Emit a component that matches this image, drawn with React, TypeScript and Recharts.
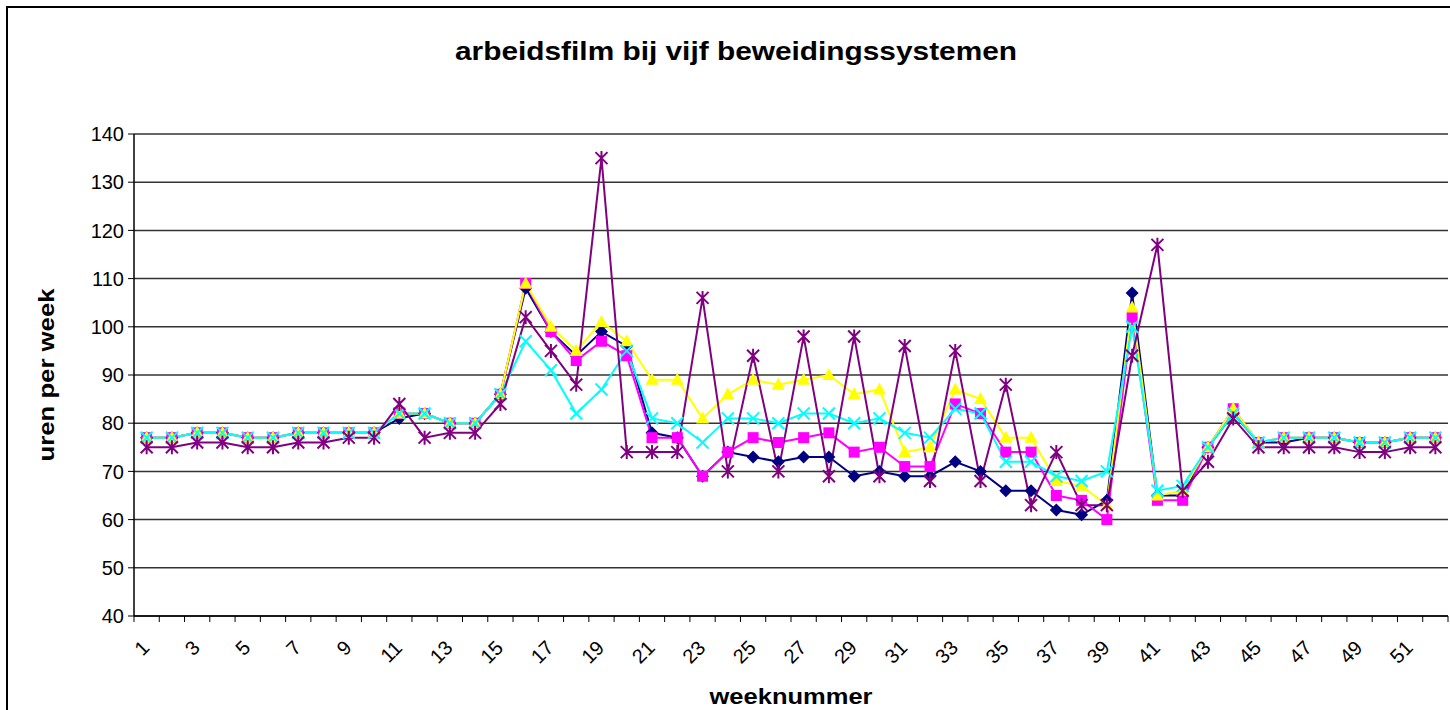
import React from 'react';
import { LineChart, Line, XAxis, YAxis, CartesianGrid } from 'recharts';

// weeknummers 1..52
const weeks = [
  '1', '2', '3', '4', '5', '6', '7', '8', '9', '10', '11', '12', '13',
  '14', '15', '16', '17', '18', '19', '20', '21', '22', '23', '24', '25', '26',
  '27', '28', '29', '30', '31', '32', '33', '34', '35', '36', '37', '38', '39',
  '40', '41', '42', '43', '44', '45', '46', '47', '48', '49', '50', '51', '52',
];

// uren per week, per beweidingssysteem
const serie1 = [77, 77, 78, 78, 77, 77, 78, 78, 78, 78, 81, 82, 80, 80, 86, 108, 99, 94, 99, 96, 78, 77, 69, 74, 73, 72, 73, 73, 69, 70, 69, 69, 72, 70, 66, 66, 62, 61, 64, 107, 65, 65, 75, 82, 76, 76, 77, 77, 76, 76, 77, 77];
const serie2 = [77, 77, 78, 78, 77, 77, 78, 78, 78, 78, 82, 82, 80, 80, 86, 109, 99, 93, 97, 94, 77, 77, 69, 74, 77, 76, 77, 78, 74, 75, 71, 71, 84, 82, 74, 74, 65, 64, 60, 102, 64, 64, 75, 83, 76, 77, 77, 77, 76, 76, 77, 77];
const serie3 = [77, 77, 78, 78, 77, 77, 78, 78, 78, 78, 82, 82, 80, 80, 86, 109, 100, 95, 101, 97, 89, 89, 81, 86, 89, 88, 89, 90, 86, 87, 74, 75, 87, 85, 77, 77, 68, 67, 63, 104, 65, 66, 75, 83, 76, 77, 77, 77, 76, 76, 77, 77];
const serie4 = [77, 77, 78, 78, 77, 77, 78, 78, 78, 78, 82, 82, 80, 80, 86, 97, 91, 82, 87, 95, 81, 80, 76, 81, 81, 80, 82, 82, 80, 81, 78, 77, 83, 82, 72, 72, 69, 68, 70, 100, 66, 67, 75, 82, 76, 77, 77, 77, 76, 76, 77, 77];
const serie5 = [75, 75, 76, 76, 75, 75, 76, 76, 77, 77, 84, 77, 78, 78, 84, 102, 95, 88, 135, 74, 74, 74, 106, 70, 94, 70, 98, 69, 98, 69, 96, 68, 95, 68, 88, 63, 74, 63, 63, 94, 117, 66, 72, 81, 75, 75, 75, 75, 74, 74, 75, 75];

const yTicks = [40, 50, 60, 70, 80, 90, 100, 110, 120, 130, 140];

const data = weeks.map((w, i) => ({
  week: w,
  s1: serie1[i],
  s2: serie2[i],
  s3: serie3[i],
  s4: serie4[i],
  s5: serie5[i],
}));

const W = 1450;
const H = 710;
const PLOT_LEFT = 134;
const PLOT_RIGHT = 1448;
const BAND = (PLOT_RIGHT - PLOT_LEFT) / weeks.length;
const FONT = '"Liberation Sans", Arial, sans-serif';

type Shape = 'diamond' | 'square' | 'triangle' | 'cross' | 'star';

const makeDot = (shape: Shape, color: string) => (props: any) => {
  const { cx, cy, index } = props;
  const key = `dot-${shape}-${index}`;
  if (cx == null || cy == null) return <g key={key} />;
  const r = 6;
  switch (shape) {
    case 'diamond':
      return <path key={key} d={`M${cx},${cy - 6.5} L${cx + 6.5},${cy} L${cx},${cy + 6.5} L${cx - 6.5},${cy} Z`} fill={color} />;
    case 'square':
      return <rect key={key} x={cx - 5.5} y={cy - 5.5} width={11} height={11} fill={color} />;
    case 'triangle':
      return <path key={key} d={`M${cx},${cy - 7} L${cx + 6.5},${cy + 5} L${cx - 6.5},${cy + 5} Z`} fill={color} />;
    case 'cross':
      return (
        <path key={key} d={`M${cx - r},${cy - r} L${cx + r},${cy + r} M${cx - r},${cy + r} L${cx + r},${cy - r}`}
          stroke={color} strokeWidth={2} fill="none" />
      );
    default:
      return (
        <path key={key}
          d={`M${cx - r},${cy - r} L${cx + r},${cy + r} M${cx - r},${cy + r} L${cx + r},${cy - r} M${cx},${cy - r - 1} L${cx},${cy + r + 1}`}
          stroke={color} strokeWidth={2} fill="none" />
      );
  }
};

const WeekTick = (props: any) => {
  const { x, y, payload, index } = props;
  const left = x - BAND / 2;
  const showLabel = index % 2 === 0;
  return (
    <g>
      <line x1={left} y1={y - 8} x2={left} y2={y - 2} stroke="#000" strokeWidth={1} />
      {index === weeks.length - 1 && (
        <line x1={left + BAND} y1={y - 8} x2={left + BAND} y2={y - 2} stroke="#000" strokeWidth={1} />
      )}
      {showLabel && (
        <text x={x + 4} y={y + 25} transform={`rotate(-45, ${x + 4}, ${y + 25})`} textAnchor="end"
          fontSize={20} fontFamily={FONT} fill="#000">
          {payload.value}
        </text>
      )}
    </g>
  );
};

const series: { key: string; color: string; shape: Shape }[] = [
  { key: 's1', color: '#000080', shape: 'diamond' },
  { key: 's2', color: '#FF00FF', shape: 'square' },
  { key: 's3', color: '#FFFF00', shape: 'triangle' },
  { key: 's4', color: '#00FFFF', shape: 'cross' },
  { key: 's5', color: '#800080', shape: 'star' },
];

export default function App() {
  return (
    <div style={{ position: 'fixed', left: 0, top: 0, width: W, height: H, overflow: 'hidden', background: '#fff' }}>
      <LineChart width={W} height={H} data={data} margin={{ top: 134, right: 2, bottom: 34, left: 74 }}>
        <CartesianGrid vertical={false} stroke="#333" strokeWidth={1.5} />
        <XAxis dataKey="week" interval={0} tickLine={false} axisLine={{ stroke: '#000', strokeWidth: 1.5 }}
          tick={<WeekTick />} height={60} padding={{ left: BAND / 2, right: BAND / 2 }} />
        <YAxis domain={[40, 140]} ticks={yTicks} interval={0} width={60} tickSize={6} tickMargin={4}
          axisLine={{ stroke: '#000', strokeWidth: 1.5 }} tickLine={{ stroke: '#000' }}
          tick={{ fill: '#000', fontSize: 20, fontFamily: FONT }} />
        <YAxis yAxisId="frame" orientation="right" domain={[40, 140]} width={0} tick={false} tickLine={false}
          axisLine={{ stroke: '#000', strokeWidth: 1.5 }} />
        {series.map((s) => (
          <Line key={s.key} type="linear" dataKey={s.key} stroke={s.color} strokeWidth={2}
            dot={makeDot(s.shape, s.color)} activeDot={false} isAnimationActive={false} />
        ))}
      </LineChart>
      <svg width={W} height={H} style={{ position: 'absolute', left: 0, top: 0, pointerEvents: 'none' }}>
        <rect x={7} y={7} width={1500} height={800} fill="none" stroke="#000" strokeWidth={2} />
        <text x={736} y={60} textAnchor="middle" fontSize={26} fontWeight="bold" fontFamily={FONT}
          textLength={562} lengthAdjust="spacingAndGlyphs">
          arbeidsfilm bij vijf beweidingssystemen
        </text>
        <text x={54} y={375} transform="rotate(-90, 54, 375)" textAnchor="middle" fontSize={22} fontWeight="bold"
          fontFamily={FONT} textLength={173} lengthAdjust="spacingAndGlyphs">
          uren per week
        </text>
        <text x={791} y={704} textAnchor="middle" fontSize={22} fontWeight="bold" fontFamily={FONT}
          textLength={163} lengthAdjust="spacingAndGlyphs">
          weeknummer
        </text>
      </svg>
    </div>
  );
}
